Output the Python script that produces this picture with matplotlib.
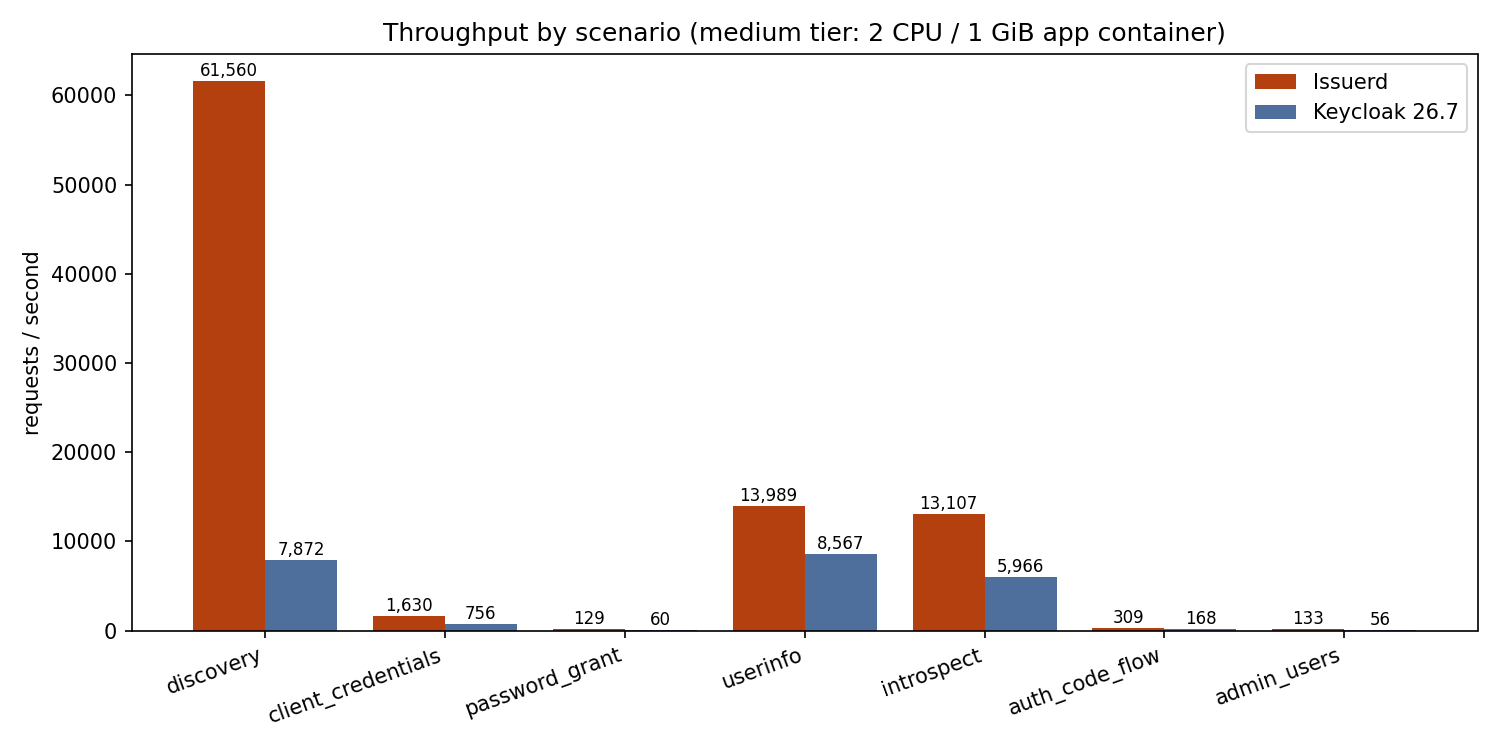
import numpy as np
import matplotlib
matplotlib.use("Agg")
import matplotlib.pyplot as plt

scenarios = ["discovery", "client_credentials", "password_grant", "userinfo",
             "introspect", "auth_code_flow", "admin_users"]
issuerd = [61560, 1630, 129, 13989, 13107, 309, 133]
keycloak = [7872, 756, 60, 8567, 5966, 168, 56]

x = np.arange(len(scenarios))
w = 0.4

fig, ax = plt.subplots(figsize=(10, 5), dpi=150)
b1 = ax.bar(x - w / 2, issuerd, w, label="Issuerd", color="#b5400f")
b2 = ax.bar(x + w / 2, keycloak, w, label="Keycloak 26.7", color="#4e6f9c")

# value labels above each bar
for bars in (b1, b2):
    ax.bar_label(bars, labels=[f"{int(b.get_height()):,}" for b in bars],
                 padding=0.5, fontsize=8)

ax.set_xticks(x)
ax.set_xticklabels(scenarios, rotation=20, ha="right")
ax.set_ylabel("requests / second")
ax.set_title("Throughput by scenario (medium tier: 2 CPU / 1 GiB app container)")
ax.legend(loc="upper right")

fig.tight_layout()
fig.savefig("out.png")
